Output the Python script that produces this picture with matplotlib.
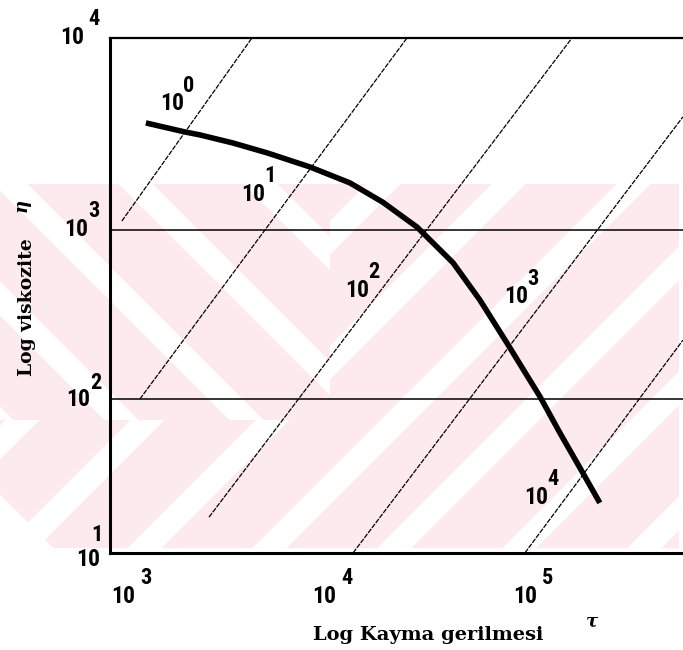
import numpy as np
import matplotlib
matplotlib.use("Agg")
import matplotlib.pyplot as plt
import matplotlib.transforms as mtransforms

# ---------------- data ----------------
# flow curve: shear stress tau vs viscosity eta
tau_curve = [1160, 1820, 2160, 3150, 4650, 7600, 12000, 17500, 25900,
             39100, 53200, 72600, 106000, 133000, 173000, 210000]
eta_curve = [4300, 3800, 3650, 3270, 2860, 2360, 1900, 1460, 1040,
             640, 385, 214, 103, 63, 36.5, 24.3]

# constant shear-rate lines (end points)
rate_exponents = ["0", "1", "2", "3", "4"]
line_tau_start = [881, 1083, 2390, 12450, 89100]
line_eta_start = [1130, 100, 20.0, 12.3, 12.3]
line_tau_end = [3910, 23100, 152800, 544000, 544000]
line_eta_end = [13700, 13700, 13700, 4670, 223]
# label anchors of those lines
label_tau = [1563, 3954, 13000, 80300, 101200]
label_eta = [5570, 1633, 441, 402, 26.3]

# horizontal reference lines
h_eta = [1000, 100]

# axis ticks
x_ticks = [1e3, 1e4, 1e5]
x_tick_exp = ["3", "4", "5"]
y_tick_exp = ["1", "2", "3", "4"]

xlim = (10 ** 2.886, 10 ** 5.736)
ylim = (10 ** 1.089, 10 ** 4.136)

# ---------------- figure ----------------
W, H = 683, 650
fig = plt.figure(figsize=(W / 100, H / 100), dpi=100)

def fx(px):
    return px / W

def fy(py):
    return 1 - py / H

# watermark-like pink background
bg = fig.add_axes([0, 0, 1, 1], zorder=-5)
Y, X = np.mgrid[0:H, 0:W]
band = (Y >= 184) & (Y <= 547) & (X <= 678) & (X + (547 - Y) >= 53)
up_left = (X < 330) & (Y < 420)
white_slash = ((X + Y - 925) % 125) < 34
white_back = ((X - Y + 65) % 125) < 34
white = np.where(up_left, white_back, white_slash)
pink = band & ~white
img = np.ones((H, W, 3))
img[pink] = np.array([252, 234, 238]) / 255.0
bg.imshow(img, extent=[0, W, H, 0], aspect="auto", interpolation="nearest")
bg.set_axis_off()

ax = fig.add_axes([fx(110), fy(553), 1 - fx(110), fy(38) - fy(553)])
ax.set_facecolor("none")
ax.set_xscale("log")
ax.set_yscale("log")
ax.set_xlim(*xlim)
ax.set_ylim(*ylim)
ax.set_xticks([])
ax.set_yticks([])
ax.minorticks_off()
ax.tick_params(which="both", length=0, labelleft=False, labelbottom=False)
ax.spines["right"].set_visible(False)
ax.spines["left"].set_linewidth(2.2)
ax.spines["bottom"].set_linewidth(2.2)
ax.spines["top"].set_linewidth(1.6)

for e in h_eta:
    ax.axhline(e, color="black", lw=1.1)

for t0, e0, t1, e1 in zip(line_tau_start, line_eta_start, line_tau_end, line_eta_end):
    ax.plot([t0, t1], [e0, e1], color="black", lw=0.9, ls=(0, (4, 1)))

ax.plot(tau_curve, eta_curve, color="black", lw=4, solid_capstyle="butt",
        solid_joinstyle="round")

num_font = dict(family=["Roboto Condensed", "Liberation Sans Narrow", "Roboto", "DejaVu Sans"],
                fontstretch="condensed", fontweight="bold", color="black")

def power_label(x, y, exp, transform, dx=0, dy=0, ex=17, ey=18, size=17, esize=16):
    base_tr = mtransforms.offset_copy(transform, fig=fig, x=dx, y=-dy, units="dots")
    exp_tr = mtransforms.offset_copy(transform, fig=fig, x=dx + ex, y=-dy + ey, units="dots")
    ax.text(x, y, "10", transform=base_tr, ha="center", va="center",
            fontsize=size, clip_on=False, **num_font)
    ax.text(x, y, exp, transform=exp_tr, ha="center", va="center",
            fontsize=esize, clip_on=False, **num_font)

# shear-rate labels
for t, e, ex in zip(label_tau, label_eta, rate_exponents):
    power_label(t, e, ex, ax.transData)

# x tick labels
xt = ax.get_xaxis_transform()
for t, ex in zip(x_ticks, x_tick_exp):
    power_label(t, -0.085, ex, xt, dx=-10, ex=23, ey=19)

# y tick labels (bottom, 10^2, 10^3, top)
yt = ax.get_yaxis_transform()
y_vals = [ylim[0], 100, 1000, ylim[1]]
y_dx = [-22, -32, -34, -38]
y_dy = [7, 0, -1, -1]
y_ex = [9, 18, 18, 22]
y_ey = [25, 16, 18, 18]
for v, exs, ddx, ddy, e1, e2 in zip(y_vals, y_tick_exp, y_dx, y_dy, y_ex, y_ey):
    power_label(0, v, exs, yt, dx=ddx, dy=ddy, ex=e1, ey=e2)

# axis titles
fig.text(fx(428), fy(635), "Log Kayma gerilmesi", ha="center", va="center",
         family="DejaVu Serif", fontweight="bold", fontsize=14)
fig.text(fx(592), fy(622), "τ", ha="center", va="center",
         family="DejaVu Serif", fontstyle="italic", fontweight="bold", fontsize=13)
fig.text(fx(27), fy(307), "Log viskozite", ha="center", va="center", rotation=90,
         family="DejaVu Serif", fontweight="bold", fontsize=13.5)
fig.text(fx(22), fy(205), "η", ha="center", va="center", rotation=90,
         family="DejaVu Serif", fontstyle="italic", fontweight="bold", fontsize=13)

fig.savefig("out.png", dpi=100)
